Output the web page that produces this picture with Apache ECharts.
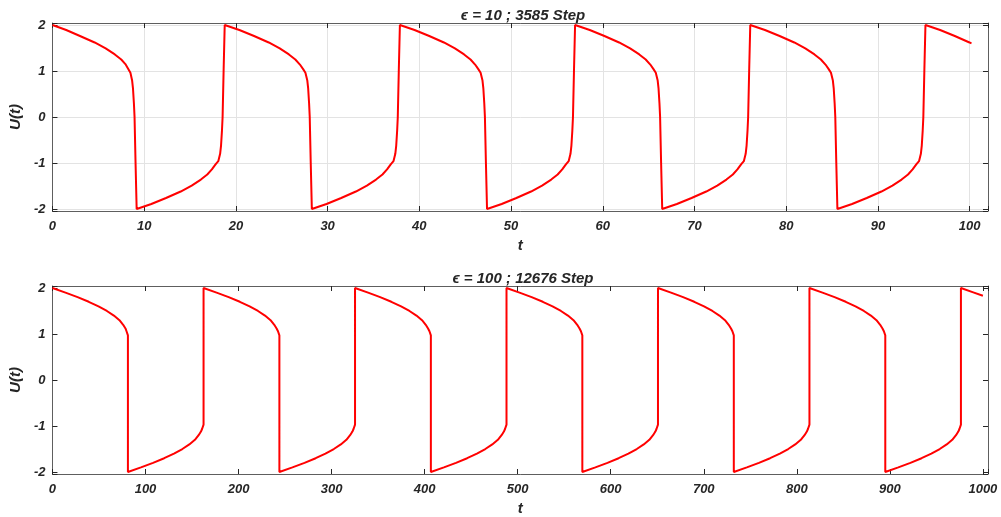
<!DOCTYPE html>
<html>
<head>
<meta charset="utf-8">
<script src="https://cdn.jsdelivr.net/npm/echarts@6/dist/echarts.min.js"></script>
<style>
  html, body { margin: 0; padding: 0; background: #ffffff; }
  #chart { width: 1001px; height: 517px; }
</style>
</head>
<body>
<div id="chart"></div>
<script>
// Van der Pol solution U(t), epsilon = 10 : [t, U]
const eps10Curve = [
  [0, 2.00], [1.5, 1.89], [3.0, 1.76], [4.6, 1.62], [5.8, 1.49], [6.8, 1.36], [7.5, 1.25], [7.95, 1.15],
  [8.25, 1.05], [8.5, 0.96], [8.68, 0.80], [8.78, 0.62], [8.88, 0.30], [8.95, 0.00], [9.06, -1.00], [9.18, -2.00],
  [10.78, -1.89], [12.38, -1.76], [13.98, -1.62], [15.18, -1.49], [16.18, -1.36], [16.88, -1.25], [17.38, -1.14],
  [17.78, -1.03], [18.08, -0.96], [18.28, -0.80], [18.38, -0.62], [18.48, -0.30], [18.55, 0.00], [18.66, 1.00], [18.78, 2.00],
  [20.38, 1.89], [21.98, 1.76], [23.58, 1.62], [24.78, 1.49], [25.78, 1.36], [26.48, 1.25], [26.98, 1.14],
  [27.33, 1.04], [27.58, 0.96], [27.78, 0.80], [27.88, 0.62], [27.98, 0.30], [28.05, 0.00], [28.16, -1.00], [28.28, -2.00],
  [29.88, -1.89], [31.48, -1.76], [33.08, -1.62], [34.28, -1.49], [35.28, -1.36], [35.98, -1.25], [36.48, -1.14],
  [36.88, -1.03], [37.18, -0.96], [37.38, -0.80], [37.48, -0.62], [37.58, -0.30], [37.65, 0.00], [37.76, 1.00], [37.88, 2.00],
  [39.48, 1.89], [41.08, 1.76], [42.68, 1.62], [43.88, 1.49], [44.88, 1.36], [45.58, 1.25], [46.08, 1.14],
  [46.43, 1.04], [46.68, 0.96], [46.88, 0.80], [46.98, 0.62], [47.08, 0.30], [47.15, 0.00], [47.26, -1.00], [47.38, -2.00],
  [48.98, -1.89], [50.58, -1.76], [52.18, -1.62], [53.38, -1.49], [54.38, -1.36], [55.08, -1.25], [55.58, -1.14],
  [55.98, -1.03], [56.28, -0.96], [56.48, -0.80], [56.58, -0.62], [56.68, -0.30], [56.75, 0.00], [56.86, 1.00], [56.98, 2.00],
  [58.58, 1.89], [60.18, 1.76], [61.78, 1.62], [62.98, 1.49], [63.98, 1.36], [64.68, 1.25], [65.18, 1.14],
  [65.53, 1.04], [65.78, 0.96], [65.98, 0.80], [66.08, 0.62], [66.18, 0.30], [66.25, 0.00], [66.36, -1.00], [66.48, -2.00],
  [68.08, -1.89], [69.68, -1.76], [71.28, -1.62], [72.48, -1.49], [73.48, -1.36], [74.18, -1.25], [74.68, -1.14],
  [75.08, -1.03], [75.38, -0.96], [75.58, -0.80], [75.68, -0.62], [75.78, -0.30], [75.85, 0.00], [75.96, 1.00], [76.08, 2.00],
  [77.68, 1.89], [79.28, 1.76], [80.88, 1.62], [82.08, 1.49], [83.08, 1.36], [83.78, 1.25], [84.28, 1.14],
  [84.63, 1.04], [84.88, 0.96], [85.08, 0.80], [85.18, 0.62], [85.28, 0.30], [85.35, 0.00], [85.46, -1.00], [85.58, -2.00],
  [87.18, -1.89], [88.78, -1.76], [90.38, -1.62], [91.58, -1.49], [92.58, -1.36], [93.28, -1.25], [93.78, -1.14],
  [94.18, -1.03], [94.48, -0.96], [94.68, -0.80], [94.78, -0.62], [94.88, -0.30], [94.95, 0.00], [95.06, 1.00], [95.18, 2.00],
  [96.78, 1.89], [98.38, 1.76], [99.98, 1.62], [100.2, 1.60]
];

// Van der Pol solution U(t), epsilon = 100 : [t, U]
const eps100Curve = [
  [0, 2.00], [14, 1.90], [27, 1.80], [39, 1.70], [49.5, 1.60], [58.5, 1.50], [66, 1.40], [72, 1.30],
  [76, 1.20], [78.5, 1.12], [79.6, 1.06], [80.5, 1.02], [81.1, 0.97], [81.1, -2.00],
  [95.1, -1.90], [108.1, -1.80], [120.1, -1.70], [130.6, -1.60], [139.6, -1.50], [147.1, -1.40], [153.1, -1.30],
  [157.1, -1.20], [159.6, -1.12], [160.9, -1.06], [161.8, -1.02], [162.4, -0.97], [162.4, 2.00],
  [176.4, 1.90], [189.4, 1.80], [201.4, 1.70], [211.9, 1.60], [220.9, 1.50], [228.4, 1.40], [234.4, 1.30],
  [238.4, 1.20], [240.9, 1.12], [242.4, 1.06], [243.3, 1.02], [243.9, 0.97], [243.9, -2.00],
  [257.9, -1.90], [270.9, -1.80], [282.9, -1.70], [293.4, -1.60], [302.4, -1.50], [309.9, -1.40], [315.9, -1.30],
  [319.9, -1.20], [322.4, -1.12], [323.7, -1.06], [324.6, -1.02], [325.2, -0.97], [325.2, 2.00],
  [339.2, 1.90], [352.2, 1.80], [364.2, 1.70], [374.7, 1.60], [383.7, 1.50], [391.2, 1.40], [397.2, 1.30],
  [401.2, 1.20], [403.7, 1.12], [405.2, 1.06], [406.1, 1.02], [406.7, 0.97], [406.7, -2.00],
  [420.7, -1.90], [433.7, -1.80], [445.7, -1.70], [456.2, -1.60], [465.2, -1.50], [472.7, -1.40], [478.7, -1.30],
  [482.7, -1.20], [485.2, -1.12], [486.5, -1.06], [487.4, -1.02], [488.0, -0.97], [488.0, 2.00],
  [502.0, 1.90], [515.0, 1.80], [527.0, 1.70], [537.5, 1.60], [546.5, 1.50], [554.0, 1.40], [560.0, 1.30],
  [564.0, 1.20], [566.5, 1.12], [568.0, 1.06], [568.9, 1.02], [569.5, 0.97], [569.5, -2.00],
  [583.5, -1.90], [596.5, -1.80], [608.5, -1.70], [619.0, -1.60], [628.0, -1.50], [635.5, -1.40], [641.5, -1.30],
  [645.5, -1.20], [648.0, -1.12], [649.3, -1.06], [650.2, -1.02], [650.8, -0.97], [650.8, 2.00],
  [664.8, 1.90], [677.8, 1.80], [689.8, 1.70], [700.3, 1.60], [709.3, 1.50], [716.8, 1.40], [722.8, 1.30],
  [726.8, 1.20], [729.3, 1.12], [730.8, 1.06], [731.7, 1.02], [732.3, 0.97], [732.3, -2.00],
  [746.3, -1.90], [759.3, -1.80], [771.3, -1.70], [781.8, -1.60], [790.8, -1.50], [798.3, -1.40], [804.3, -1.30],
  [808.3, -1.20], [810.8, -1.12], [812.1, -1.06], [813.0, -1.02], [813.6, -0.97], [813.6, 2.00],
  [827.6, 1.90], [840.6, 1.80], [852.6, 1.70], [863.1, 1.60], [872.1, 1.50], [879.6, 1.40], [885.6, 1.30],
  [889.6, 1.20], [892.1, 1.12], [893.6, 1.06], [894.5, 1.02], [895.1, 0.97], [895.1, -2.00],
  [909.1, -1.90], [922.1, -1.80], [934.1, -1.70], [944.6, -1.60], [953.6, -1.50], [961.1, -1.40], [967.1, -1.30],
  [971.1, -1.20], [973.6, -1.12], [974.9, -1.06], [975.8, -1.02], [976.4, -0.97], [976.4, 2.00],
  [990.4, 1.90], [1000, 1.83]
];

const titles = ['\u03F5 = 10 ; 3585 Step', '\u03F5 = 100 ; 12676 Step'];
const xLimits = [102, 1005.5];
const xSteps = [10, 100];
const yLimit = 2.043;
const xName = 't';
const yName = 'U(t)';

const FONT = '"Liberation Sans", Arial, sans-serif';
const TXT = '#262626';
const AXIS = '#5e5e5e';
const GRID = '#e3e3e3';

const grids = [
  { left: 49, top: 23, width: 939, height: 188 },
  { left: 49, top: 286, width: 939, height: 188 }
];

const tickLabel = {
  fontFamily: FONT, fontSize: 13, fontWeight: 'bold', fontStyle: 'italic', color: TXT
};

function xAxes(i, withGrid) {
  const step = xSteps[i];
  const base = {
    type: 'value', gridIndex: i, min: 0, max: xLimits[i], interval: step
  };
  return [
    Object.assign({}, base, {
      position: 'bottom',
      axisLine: { show: true, onZero: false, lineStyle: { color: AXIS, width: 1 } },
      axisTick: { show: true, inside: true, length: 5, lineStyle: { color: TXT } },
      axisLabel: Object.assign({}, tickLabel, {
        margin: 9,
        formatter: v => (Math.abs(v % step) < 1e-9 ? String(v) : '')
      }),
      splitLine: { show: withGrid, lineStyle: { color: GRID, width: 1 } },
      name: xName, nameLocation: 'middle', nameGap: 27,
      nameTextStyle: { fontFamily: FONT, fontSize: 15, fontWeight: 'bold', fontStyle: 'italic', color: TXT }
    }),
    Object.assign({}, base, {
      position: 'top',
      axisLine: { show: true, onZero: false, lineStyle: { color: AXIS, width: 1 } },
      axisTick: { show: true, inside: true, length: 5, lineStyle: { color: TXT } },
      axisLabel: { show: false },
      splitLine: { show: false }
    })
  ];
}

function yAxes(i, withGrid) {
  const base = {
    type: 'value', gridIndex: i, min: -yLimit, max: yLimit,
    splitNumber: 4, minInterval: 1, maxInterval: 1
  };
  return [
    Object.assign({}, base, {
      position: 'left',
      axisLine: { show: true, onZero: false, lineStyle: { color: AXIS, width: 1 } },
      axisTick: { show: true, inside: true, length: 5, lineStyle: { color: TXT } },
      axisLabel: Object.assign({}, tickLabel, {
        margin: 7,
        formatter: v => (Math.abs(v - Math.round(v)) < 1e-6 ? String(Math.round(v)) : '')
      }),
      splitLine: { show: withGrid, lineStyle: { color: GRID, width: 1 } },
      name: yName, nameLocation: 'middle', nameGap: 22, nameRotate: 90,
      nameTextStyle: { fontFamily: FONT, fontSize: 15, fontWeight: 'bold', fontStyle: 'italic', color: TXT }
    }),
    Object.assign({}, base, {
      position: 'right',
      axisLine: { show: true, onZero: false, lineStyle: { color: AXIS, width: 1 } },
      axisTick: { show: true, inside: true, length: 5, lineStyle: { color: TXT } },
      axisLabel: { show: false },
      splitLine: { show: false }
    })
  ];
}

const chart = echarts.init(document.getElementById('chart'), null, { renderer: 'canvas' });

chart.setOption({
  animation: false,
  backgroundColor: '#ffffff',
  title: titles.map((t, i) => ({
    text: t,
    left: 518,
    top: i === 0 ? 3 : 266,
    textAlign: 'center',
    textStyle: { fontFamily: FONT, fontSize: 15, fontWeight: 'bold', fontStyle: 'italic', color: TXT }
  })),
  grid: grids,
  xAxis: [].concat(xAxes(0, true), xAxes(1, false)),
  yAxis: [].concat(yAxes(0, true), yAxes(1, false)),
  series: [
    {
      type: 'line', xAxisIndex: 0, yAxisIndex: 0, data: eps10Curve,
      showSymbol: false, symbol: 'none', clip: true,
      lineStyle: { color: '#ff0000', width: 2 }
    },
    {
      type: 'line', xAxisIndex: 2, yAxisIndex: 2, data: eps100Curve,
      showSymbol: false, symbol: 'none', clip: true,
      lineStyle: { color: '#ff0000', width: 2 }
    }
  ]
});
</script>
</body>
</html>
